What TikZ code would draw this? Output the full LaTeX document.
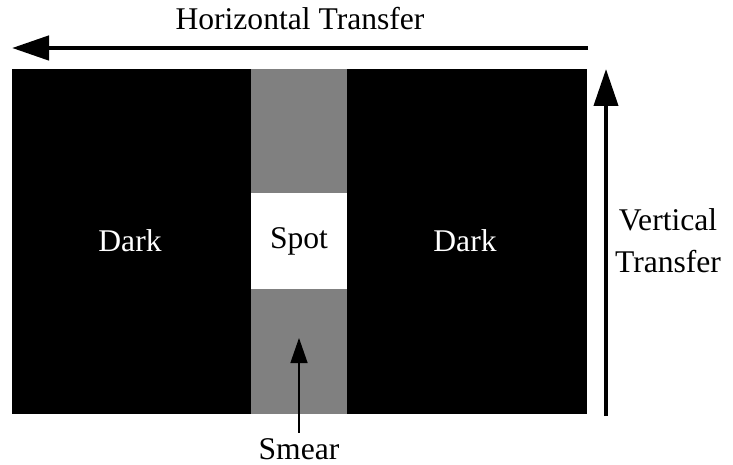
\documentclass[tikz,border=0pt]{standalone}
\usepackage{fontspec}
\setmainfont{Liberation Serif}
\usetikzlibrary{arrows.meta}

\begin{document}
\begin{tikzpicture}[x=0.5pt,y=-0.5pt,
  lbl/.style={font=\fontsize{15.8}{21}\selectfont, inner sep=0pt},
  bigarrow/.style={line width=2.3pt, -{Triangle[length=18.5pt,width=12pt]}},
  smallarrow/.style={line width=0.7pt, -{Triangle[length=12.5pt,width=8.5pt]}}]
\path [use as bounding box] (0,0) rectangle (733,465);
% sensor area
\fill [black] (12,69) rectangle (587,414);
\fill [gray] (251,69) rectangle (347,414);
\fill [white] (251,193) rectangle (347,289);
\node [lbl, white] (darkL) at (130,241) {Dark};
\node [lbl, white] (darkR) at (465,241) {Dark};
\node [lbl] (spot) at (299,241) {Spot};
\node [lbl] (smear) at (299,449) {Smear};
\node [lbl, align=center] (vert) at (668,241) {Vertical\\Transfer};
\node [lbl] (horiz) at (300,19) {Horizontal Transfer};
% transfer directions
\coordinate (hstart) at (588,48);
\coordinate (hend) at (12,48);
\coordinate (vstart) at (606,416);
\coordinate (vend) at (606,69);
\coordinate (smtip) at (299,338);
\draw [bigarrow] (hstart) -- (hend);
\draw [bigarrow, line width=2pt] (vstart) -- (vend);
\draw [smallarrow] (smear.north) ++(0,-5) -- (smtip);
\end{tikzpicture}
\end{document}
